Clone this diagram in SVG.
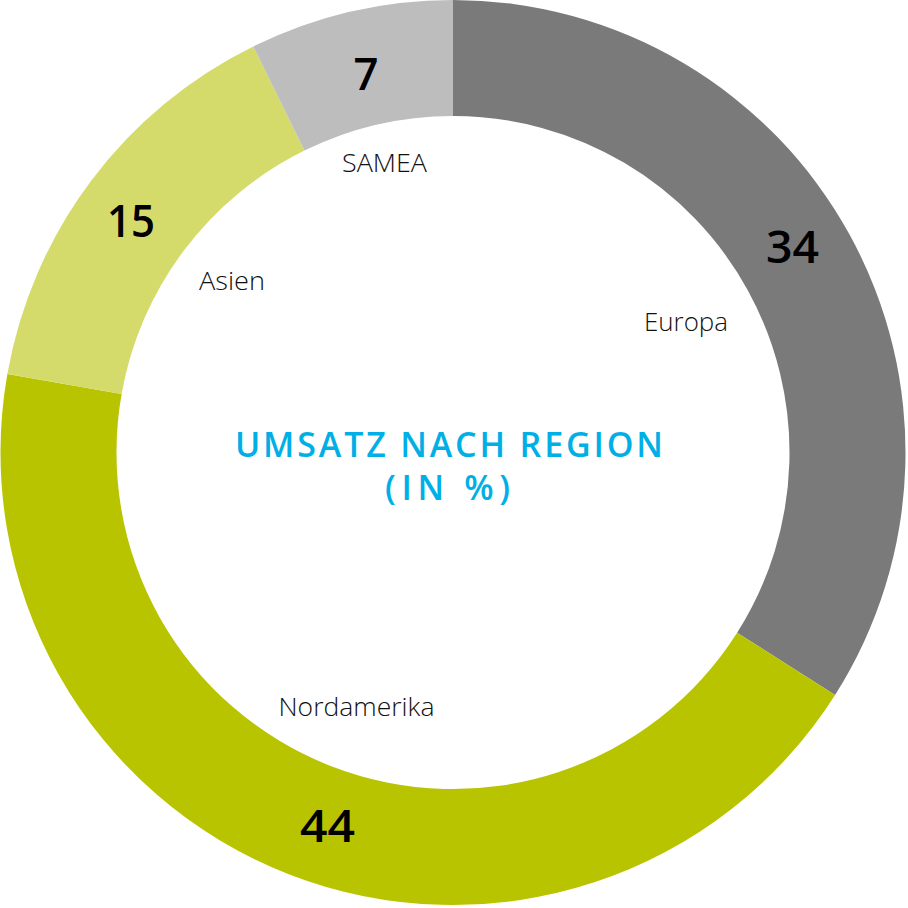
<svg xmlns="http://www.w3.org/2000/svg" width="908" height="908" viewBox="0 0 908 908">
<style>
.lbl{font-family:"Open Sans","Noto Sans","Liberation Sans",sans-serif;font-size:26px;font-weight:300;fill:#111;text-anchor:middle}
.num{font-family:"Open Sans","Noto Sans","Liberation Sans",sans-serif;font-size:46px;font-weight:600;fill:#000;text-anchor:middle}
.ttl{font-family:"Open Sans","Noto Sans","Liberation Sans",sans-serif;font-size:34px;font-weight:600;fill:#00afe6;text-anchor:middle}
</style>
<rect width="908" height="908" fill="#fff"/>
<g id="europa">
<path d="M453,0 A452.5,452.5 0 0 1 835.06,694.96 L737.12,632.81 A336.5,336.5 0 0 0 453,116 Z" fill="#7a7a7a"/>
<text class="num" x="792.5" y="263" textLength="53" lengthAdjust="spacingAndGlyphs">34</text>
<text class="lbl" x="686" y="331" textLength="84" lengthAdjust="spacingAndGlyphs">Europa</text>
</g>
<g id="nordamerika">
<path d="M835.06,694.96 A452.5,452.5 0 0 1 7.37,373.92 L121.61,394.07 A336.5,336.5 0 0 0 737.12,632.81 Z" fill="#b9c400"/>
<text class="num" x="327.5" y="842" textLength="55" lengthAdjust="spacingAndGlyphs">44</text>
<text class="lbl" x="356.5" y="716" textLength="156" lengthAdjust="spacingAndGlyphs">Nordamerika</text>
</g>
<g id="asien">
<path d="M7.37,373.92 A452.5,452.5 0 0 1 253.22,46.49 L304.43,150.57 A336.5,336.5 0 0 0 121.61,394.07 Z" fill="#d4db6b"/>
<text class="num" x="131" y="237" textLength="48" lengthAdjust="spacingAndGlyphs">15</text>
<text class="lbl" x="232" y="290" textLength="66" lengthAdjust="spacingAndGlyphs">Asien</text>
</g>
<g id="samea">
<path d="M253.22,46.49 A452.5,452.5 0 0 1 453,0 L453,116 A336.5,336.5 0 0 0 304.43,150.57 Z" fill="#bdbdbd"/>
<text class="num" x="366" y="90" textLength="25" lengthAdjust="spacingAndGlyphs">7</text>
<text class="lbl" x="384.5" y="172" textLength="85" lengthAdjust="spacingAndGlyphs">SAMEA</text>
</g>
<g id="title">
<text class="ttl" x="449" y="457" textLength="428" lengthAdjust="spacing">UMSATZ NACH REGION</text>
<text class="ttl" x="447.5" y="500" textLength="125" lengthAdjust="spacing">(IN %)</text>
</g>
<g id="connectors"></g>
</svg>
